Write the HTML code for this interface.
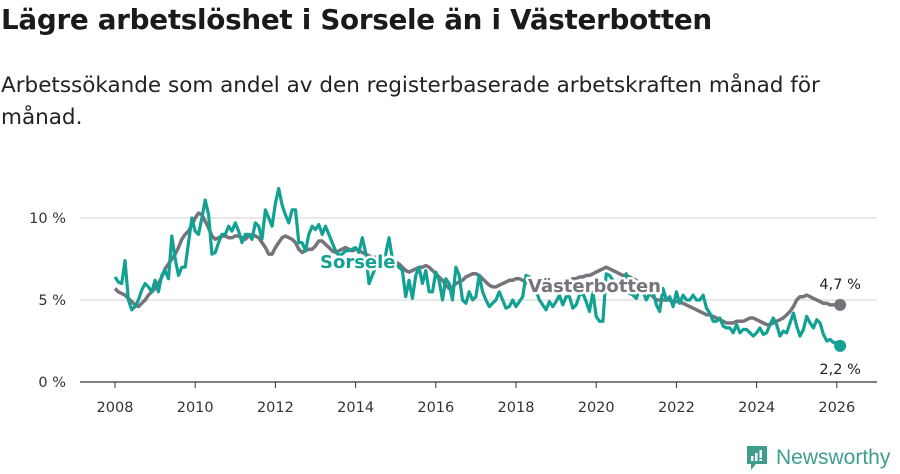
<!DOCTYPE html>
<html><head><meta charset="utf-8">
<style>
body{margin:0;width:900px;height:474px;background:#fff;font-family:"DejaVu Sans","Liberation Sans",sans-serif;overflow:hidden;position:relative}
#title{position:absolute;left:1px;top:3px;font-size:27.8px;font-weight:bold;color:#1a1a1a;margin:0;letter-spacing:-0.3px}
#sub{position:absolute;left:1px;top:70px;font-size:21.5px;line-height:32px;color:#222;width:840px;margin:0}
svg{position:absolute;left:0;top:0}
text{font-family:"DejaVu Sans","Liberation Sans",sans-serif}
</style></head><body>
<h1 id="title">Lägre arbetslöshet i Sorsele än i Västerbotten</h1>
<p id="sub">Arbetssökande som andel av den registerbaserade arbetskraften månad för månad.</p>
<svg id="chart" width="900" height="474"></svg>
<script>
const years=[2008,2010,2012,2014,2016,2018,2020,2022,2024,2026];
const yTicks=[0,5,10];
const yTickLabels=["0 %","5 %","10 %"];
const sorsele=[
6.4,6.1,6.0,7.4,5.0,4.4,4.6,5.0,5.6,6.0,5.8,5.5,
6.2,5.5,6.5,6.8,6.3,8.9,7.5,6.5,7.0,7.0,8.5,10.0,
9.2,9.0,10.0,11.1,10.2,7.8,7.9,8.5,9.0,9.0,9.5,9.2,
9.7,9.2,8.5,9.0,9.0,8.7,9.7,9.5,8.7,10.5,10.0,9.5,
10.9,11.8,10.8,10.2,9.7,10.5,10.5,8.5,8.5,8.0,9.0,9.5,
9.3,9.6,9.0,9.5,9.0,8.5,8.0,7.7,7.8,8.0,8.0,8.1,
8.2,7.9,8.8,7.9,6.0,6.5,7.0,7.2,7.0,7.8,8.8,7.5,
7.2,7.0,6.8,5.2,6.2,5.1,6.5,7.0,6.0,6.8,5.5,5.5,
6.7,6.2,5.0,6.3,6.0,5.0,7.0,6.5,5.0,4.8,5.5,5.0,
5.2,6.5,5.5,5.0,4.6,4.8,5.0,5.5,5.0,4.5,4.6,5.0,
4.6,4.9,5.2,6.5,6.4,5.6,5.6,5.0,4.7,4.4,4.9,4.6,
4.9,5.3,4.7,5.2,5.2,4.5,4.7,5.3,5.4,4.9,4.3,5.5,
4.0,3.7,3.7,6.6,6.5,6.2,5.5,6.3,6.0,6.6,5.4,5.3,
5.1,5.7,5.5,5.0,5.4,5.5,4.7,4.3,5.7,5.0,5.2,4.6,
5.5,4.8,5.3,5.0,5.0,5.3,5.0,5.0,5.3,4.5,4.2,3.7,
3.7,3.9,3.4,3.3,3.3,3.0,3.5,3.0,3.2,3.2,3.0,2.8,
3.0,3.3,2.9,3.0,3.5,3.9,3.5,2.8,3.1,3.0,3.6,4.2,
3.4,2.8,3.2,4.0,3.6,3.3,3.8,3.6,2.9,2.5,2.6,2.4,
2.4,2.2];
const vasterbotten=[
5.7,5.5,5.4,5.3,5.1,4.9,4.7,4.6,4.8,5.0,5.3,5.5,
5.7,6.0,6.4,6.9,7.2,7.5,7.8,8.2,8.7,9.0,9.2,9.6,
10.0,10.3,10.2,9.8,9.4,8.9,8.7,8.8,8.9,8.9,8.8,8.8,
8.9,8.9,8.8,8.7,8.9,9.0,8.9,8.8,8.5,8.2,7.8,7.8,
8.2,8.5,8.8,8.9,8.8,8.7,8.5,8.1,7.9,8.0,8.1,8.1,
8.3,8.6,8.6,8.4,8.2,8.0,7.9,8.0,8.1,8.2,8.1,8.0,
8.1,8.0,7.9,7.8,7.7,7.6,7.6,7.7,7.6,7.4,7.3,7.3,
7.3,7.2,7.0,6.8,6.7,6.8,6.9,7.0,7.0,7.1,7.0,6.8,
6.6,6.4,6.2,5.9,5.7,5.8,6.0,6.1,6.2,6.4,6.5,6.6,
6.6,6.5,6.3,6.1,5.9,5.8,5.8,5.9,6.0,6.1,6.2,6.2,
6.3,6.3,6.2,6.1,6.0,5.9,5.9,6.0,6.0,6.0,5.9,5.9,
6.0,6.1,6.1,6.2,6.2,6.3,6.3,6.4,6.4,6.5,6.5,6.6,
6.7,6.8,6.9,7.0,6.9,6.8,6.7,6.6,6.5,6.5,6.4,6.3,
6.2,6.0,5.8,5.6,5.4,5.2,5.0,5.0,5.0,5.0,5.0,4.9,
4.9,4.9,4.8,4.7,4.6,4.5,4.4,4.3,4.2,4.1,4.1,4.0,
3.9,3.8,3.7,3.6,3.6,3.6,3.7,3.7,3.7,3.8,3.9,3.9,
3.8,3.7,3.6,3.5,3.5,3.6,3.7,3.8,3.9,4.1,4.3,4.6,
5.0,5.2,5.2,5.3,5.2,5.1,5.0,4.9,4.8,4.8,4.7,4.7,
4.7,4.7];
const startYear=2008;
const NS="http://www.w3.org/2000/svg";
const svg=document.getElementById('chart');
const xs=t=>115+(t-2008)*40.1;
const ys=v=>382-v*16.4;
function mk(tag,attrs,parent){const e=document.createElementNS(NS,tag);for(const k in attrs)e.setAttribute(k,attrs[k]);(parent||svg).appendChild(e);return e;}
yTicks.forEach((v,i)=>{
  const g=mk('line',{x1:80,x2:877,y1:ys(v),y2:ys(v),stroke:v===0?'#333':'#d9d9d9','stroke-width':1.2});
  
  
  const t=mk('text',{x:66,y:ys(v)+5,'text-anchor':'end','font-size':14.5,fill:'#333'});
  t.textContent=yTickLabels[i];
  
  
});
years.forEach(y=>{
  const l=mk('line',{x1:xs(y),x2:xs(y),y1:382,y2:388,stroke:'#333','stroke-width':1});
  
  
  const t=mk('text',{x:xs(y),y:412,'text-anchor':'middle','font-size':14.5,fill:'#333'});
  t.textContent=y;
  
  
});
function path(arr){return arr.map((v,i)=>(i?'L':'M')+xs(startYear+i/12).toFixed(1)+','+ys(v).toFixed(1)).join('');}
const gp=mk('path',{d:path(vasterbotten),fill:'none',stroke:'#76737a','stroke-width':3.5,'stroke-linejoin':'round'});


const sp=mk('path',{d:path(sorsele),fill:'none',stroke:'#12a193','stroke-width':3.2,'stroke-linejoin':'round'});


function endDot(arr,col,name){const i=arr.length-1;const c=mk('circle',{cx:xs(startYear+i/12),cy:ys(arr[i]),r:6,fill:col});return c;}
endDot(vasterbotten,'#76737a','vasterbotten-end-dot');
endDot(sorsele,'#12a193','sorsele-end-dot');
function lbl(x,y,txt,col,name,bold,halo,anchor){const t=mk('text',{x:x,y:y,'font-size':bold?18:14.5,'font-weight':bold?'bold':'normal',fill:col,'text-anchor':anchor||'start',stroke:halo?'#fff':'none','stroke-width':halo?5:0,'paint-order':'stroke','stroke-linejoin':'round'});t.textContent=txt;}
const li=vasterbotten.length-1;
lbl(xs(startYear+li/12),ys(vasterbotten[li])-16,String(vasterbotten[li]).replace('.',',')+' %','#222','vasterbotten-end-label',false,true,'middle');
lbl(xs(startYear+li/12),ys(sorsele[sorsele.length-1])+28,String(sorsele[sorsele.length-1]).replace('.',',')+' %','#222','sorsele-end-label',false,true,'middle');
lbl(320,268,'Sorsele','#12a193','sorsele-series-label',true,true);
lbl(528,292,'Västerbotten','#76737a','vasterbotten-series-label',true,true);
</script>
<div style="position:absolute;left:745px;top:444px;display:flex;align-items:center;gap:7px">
<svg width="24" height="28" viewBox="0 0 24 28" style="position:static"><path d="M2 2h20v18H11l-5 6v-6H2z" fill="#3f9d8f"/><rect x="6" y="12" width="2.5" height="5" fill="#fff"/><rect x="10" y="9" width="2.5" height="8" fill="#fff"/><rect x="14.5" y="6" width="2.5" height="8" fill="#fff"/><rect x="14.5" y="15" width="2.5" height="2" fill="#fff"/></svg>
<span style="font-size:21px;color:#3f9d8f;font-family:'Liberation Sans',sans-serif">Newsworthy</span></div>
</body></html>
